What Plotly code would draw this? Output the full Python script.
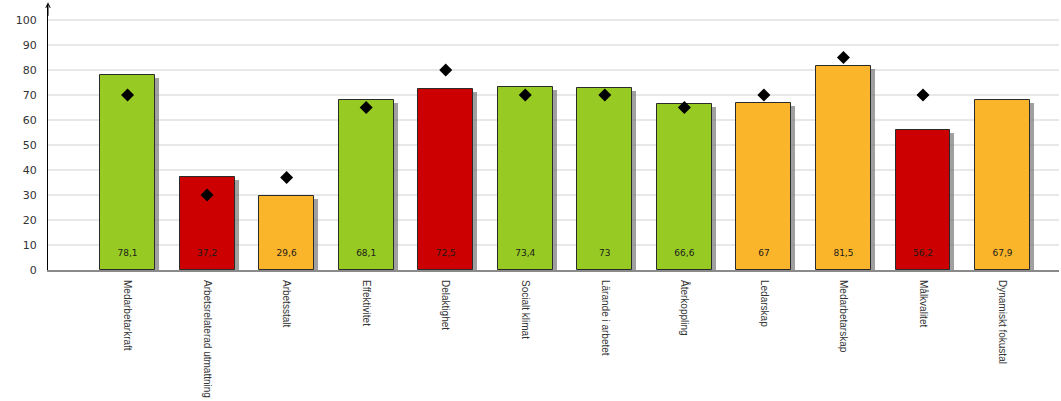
import plotly.graph_objects as go

categories = ["Medarbetarkraft", "Arbetsrelaterad utmattning", "Arbetsstalt", "Effektivitet",
              "Delaktighet", "Socialt klimat", "Lärande i arbetet", "Återkoppling",
              "Ledarskap", "Medarbetarskap", "Målkvalitet", "Dynamiskt fokustal"]
values = [78.1, 37.2, 29.6, 68.1, 72.5, 73.4, 73, 66.6, 67, 81.5, 56.2, 67.9]
targets = [70, 30, 37, 65, 80, 70, 70, 65, 70, 85, 70, None]
status = ["green", "red", "orange", "green", "red", "green", "green", "green",
          "orange", "orange", "red", "orange"]
yticks = [0, 10, 20, 30, 40, 50, 60, 70, 80, 90, 100]

palette = {"green": "#97cb24", "red": "#cc0000", "orange": "#fbb52b"}
colors = [palette[s] for s in status]
labels = [f"{v:g}".replace(".", ",") for v in values]
x = list(range(len(categories)))

W = 0.69
fig = go.Figure()
# shadow
fig.add_trace(go.Bar(x=x, y=[v - 1.2 for v in values], width=W, offset=-W / 2 + 0.05,
                     marker=dict(color="rgba(120,120,120,0.7)", line=dict(width=0)),
                     hoverinfo="skip", showlegend=False))
fig.add_trace(go.Bar(x=x, y=values, width=W, offset=-W / 2,
                     marker=dict(color=colors, line=dict(color="#2a2a2a", width=1)),
                     showlegend=False))
fig.add_trace(go.Scatter(x=x, y=[6.4] * len(x), mode="text", text=labels,
                         textfont=dict(family="DejaVu Sans", size=9, color="#1a1a1a"),
                         showlegend=False, hoverinfo="skip"))
fig.add_trace(go.Scatter(x=x, y=targets, mode="markers",
                         marker=dict(symbol="diamond", size=10, color="black"),
                         showlegend=False))

fig.update_layout(
    width=1061, height=401,
    margin=dict(l=48, r=2, t=5, b=131, autoexpand=False),
    plot_bgcolor="white", paper_bgcolor="white",
    barmode="overlay", bargap=0,
    xaxis=dict(range=[-1.0, 11.71], tickmode="array", tickvals=x, ticktext=categories,
               tickangle=90, showgrid=False, showline=True, linecolor="#8a8a8a",
               linewidth=2, ticks="", zeroline=False, automargin=False,
               ticklabelstandoff=6,
               tickfont=dict(family="Liberation Sans Narrow, Liberation Sans, sans-serif",
                             size=10, color="#333")),
    yaxis=dict(range=[0, 106], tickvals=yticks, showgrid=True, gridcolor="#e8e8e8",
               gridwidth=2, showline=True, linecolor="black", linewidth=1,
               zeroline=False, ticks="", ticklabelstandoff=8, automargin=False,
               tickfont=dict(family="DejaVu Sans", size=11, color="#333")),
)
fig.add_annotation(xref="paper", yref="paper", x=0, y=1.01, ax=0, ay=15, text="",
                   showarrow=True, arrowhead=5, arrowsize=0.9, arrowwidth=1,
                   arrowcolor="black")
fig.write_html("out.html")
